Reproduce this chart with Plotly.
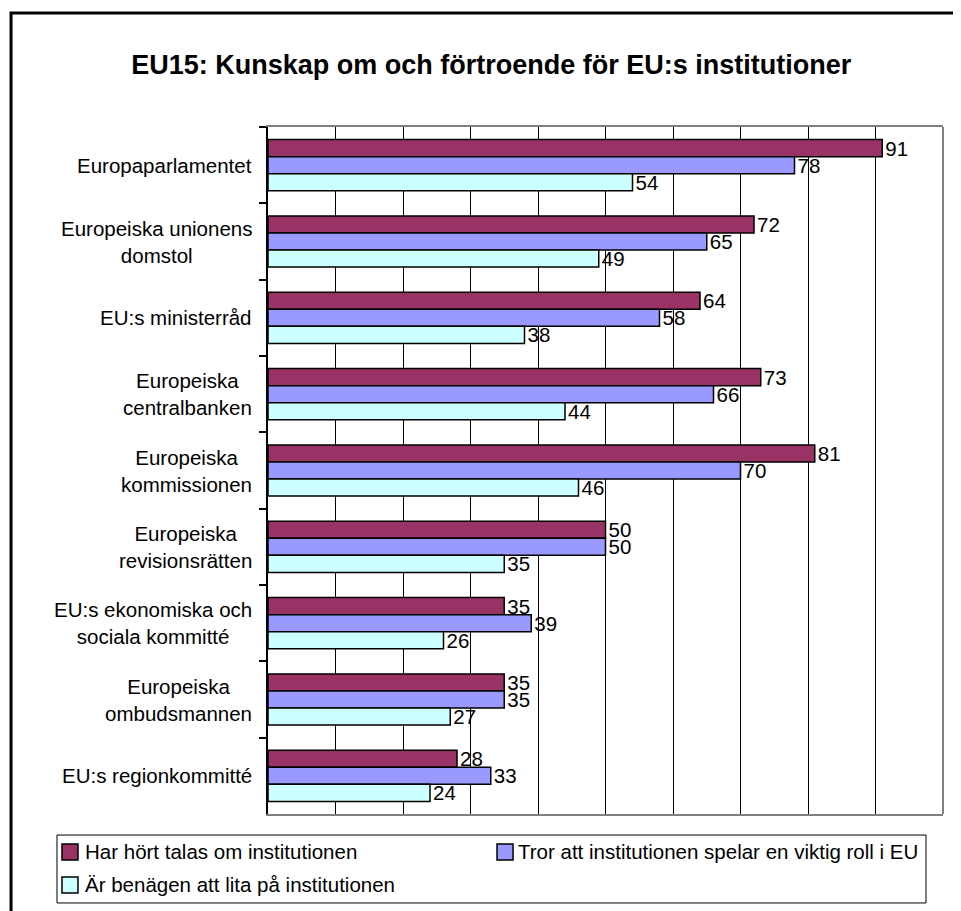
import plotly.graph_objects as go

categories = [
    "Europaparlamentet",
    "Europeiska unionens domstol",
    "EU:s ministerråd",
    "Europeiska centralbanken",
    "Europeiska kommissionen",
    "Europeiska revisionsrätten",
    "EU:s ekonomiska och sociala kommitté",
    "Europeiska ombudsmannen",
    "EU:s regionkommitté",
]
category_labels = [
    "Europaparlamentet",
    "Europeiska unionens<br>domstol",
    "EU:s ministerråd",
    "Europeiska<br>centralbanken",
    "Europeiska<br>kommissionen",
    "Europeiska<br>revisionsrätten",
    "EU:s ekonomiska och<br>sociala kommitté",
    "Europeiska<br>ombudsmannen",
    "EU:s regionkommitté",
]
series_names = [
    "Har hört talas om institutionen",
    "Tror att institutionen spelar en viktig roll i EU",
    "Är benägen att lita på institutionen",
]
heard = [91, 72, 64, 73, 81, 50, 35, 35, 28]
important = [78, 65, 58, 66, 70, 50, 39, 35, 33]
trust = [54, 49, 38, 44, 46, 35, 26, 27, 24]
colors = ["#993366", "#9999FF", "#CCFFFF"]

FONT = "Liberation Sans, Arial, sans-serif"

fig = go.Figure()
for name, vals, col in zip(series_names, [heard, important, trust], colors):
    fig.add_trace(go.Bar(
        y=categories, x=vals, name=name, orientation="h",
        marker=dict(color=col, line=dict(color="#000000", width=1.5)),
        text=[str(v) for v in vals], textposition="outside",
        textfont=dict(family=FONT, size=20.5, color="#000000"),
        constraintext="none", cliponaxis=False, showlegend=False,
    ))

for cat, lab in zip(categories, category_labels):
    fig.add_annotation(
        x=-0.021, xref="paper", y=cat, yref="y", text=lab,
        xanchor="right", yanchor="middle", align="center", showarrow=False,
        font=dict(family=FONT, size=20.5, color="#000000"),
    )

# outer chart border
fig.add_shape(type="rect", xref="paper", yref="paper",
              x0=-0.3807, x1=1.2, y0=-0.3, y1=1.166,
              line=dict(color="#000000", width=3), layer="above")
# right plot border
fig.add_shape(type="line", xref="paper", yref="paper",
              x0=1, x1=1, y0=0, y1=1,
              line=dict(color="#808080", width=2), layer="above")

# legend box (drawn manually to match the reference layout)
fig.add_shape(type="rect", xref="paper", yref="paper",
              x0=-0.3126, x1=0.9748, y0=-0.1295, y1=-0.0306,
              line=dict(color="#000000", width=1), fillcolor="#FFFFFF", layer="above")
legend_pos = [
    (-0.3052, -0.2815, -0.2726, -0.0553),
    (0.3393, 0.3630, 0.3689, -0.0553),
    (-0.3052, -0.2815, -0.2726, -0.1033),
]
for (mx0, mx1, tx, ty), name, col in zip(legend_pos, series_names, colors):
    fig.add_shape(type="rect", xref="paper", yref="paper",
                  x0=mx0, x1=mx1, y0=ty - 0.01165, y1=ty + 0.01165,
                  line=dict(color="#000000", width=1.5), fillcolor=col, layer="above")
    fig.add_annotation(x=tx, xref="paper", y=ty, yref="paper", text=name,
                       xanchor="left", yanchor="middle", showarrow=False, borderpad=0,
                       font=dict(family=FONT, size=20.5, color="#000000"))

fig.update_layout(
    width=953, height=903,
    margin=dict(l=260, r=18, t=119, b=97),
    paper_bgcolor="#FFFFFF", plot_bgcolor="#FFFFFF",
    barmode="group", bargap=0.33, bargroupgap=0,
    font=dict(family=FONT, size=20.5, color="#000000"),
    title=dict(text="<b>EU15: Kunskap om och förtroende för EU:s institutioner</b>",
               x=0.507, xanchor="center", y=0.9369, yanchor="middle",
               font=dict(family=FONT, size=27, color="#000000")),
    showlegend=False,
    xaxis=dict(range=[0, 100], tickvals=[10, 20, 30, 40, 50, 60, 70, 80, 90],
               showticklabels=False, ticks="", showgrid=True,
               gridcolor="#000000", gridwidth=1, zeroline=False,
               showline=True, linecolor="#808080", linewidth=2, mirror=True),
    yaxis=dict(autorange="reversed", showticklabels=False, ticks="outside",
               tickson="boundaries", ticklen=7, tickcolor="#000000", tickwidth=1.5,
               showgrid=False, showline=True, linecolor="#000000", linewidth=2),
)

fig.write_html("out.html")
